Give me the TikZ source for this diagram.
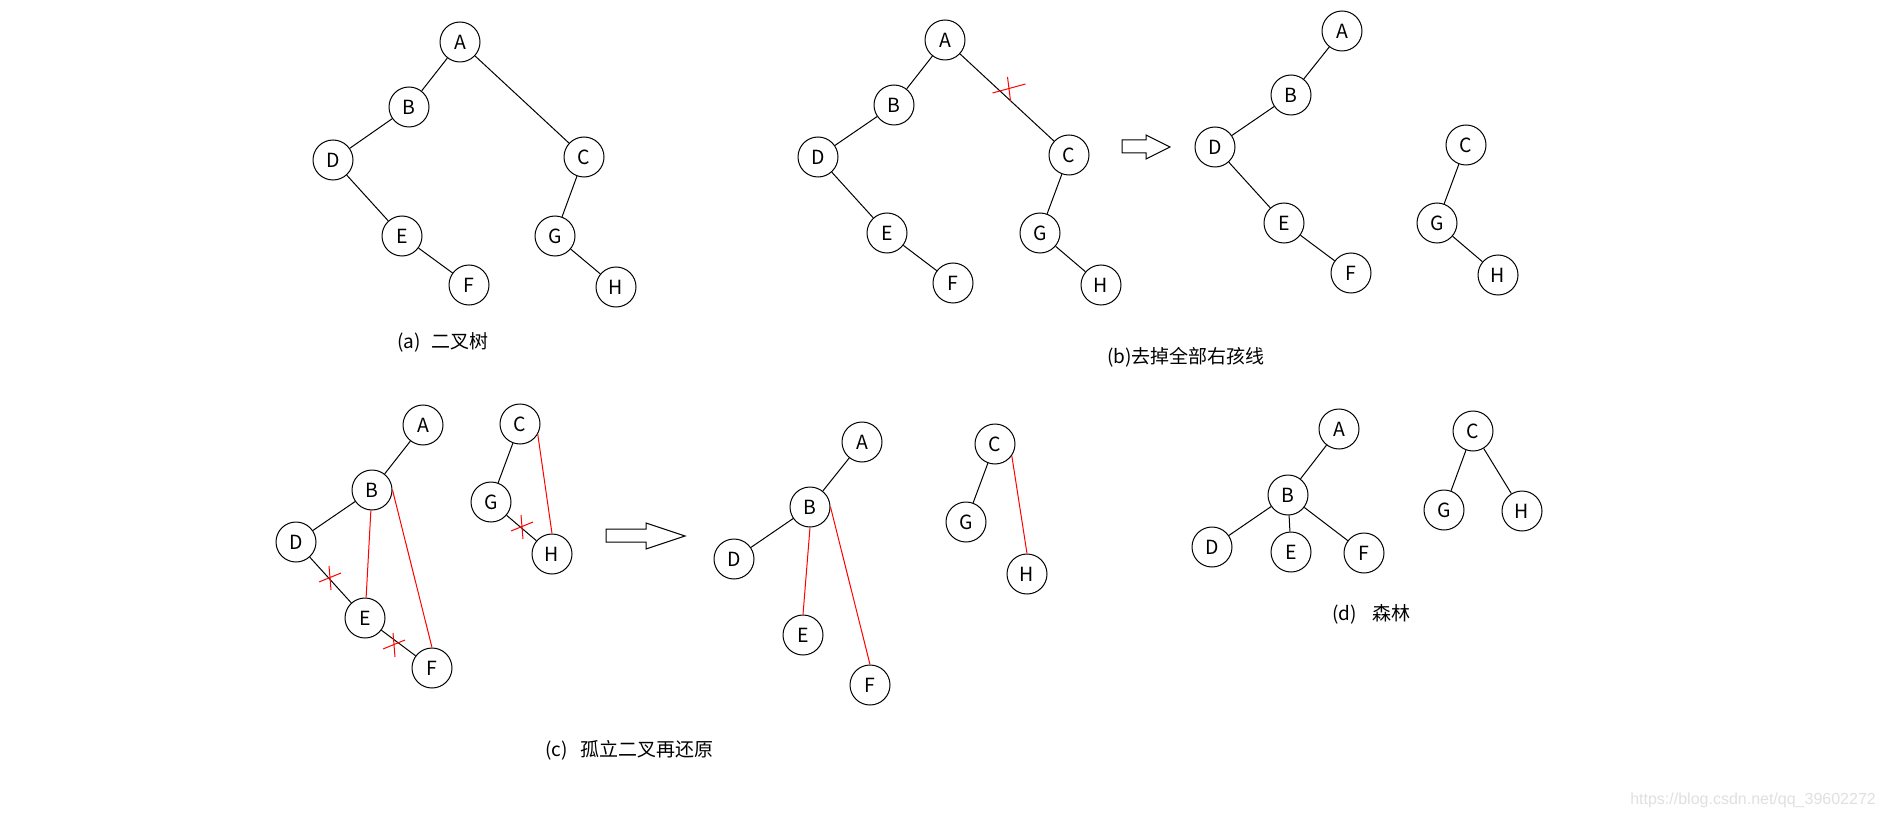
\documentclass[tikz,border=0pt]{standalone}
\usepackage{fontspec}
\setmainfont{Noto Sans CJK SC}
\newfontfamily\urlfont{Liberation Sans}
\tikzset{
  vert/.style={circle, draw, line width=1pt, minimum size=40pt, inner sep=0pt,
    font=\fontsize{19.5}{22}\selectfont},
  caption/.style={anchor=west, inner sep=0pt, font=\fontsize{19}{22}\selectfont},
  edge/.style={line width=1pt},
  redge/.style={line width=1pt, red},
  hollow/.style={line width=1pt, fill=white},
  cross/.pic={\draw[red, line width=1pt] (-11,4) -- (11,-5) (-1,-12) -- (1,12);}
}
\begin{document}
\begin{tikzpicture}[x=1pt, y=-1pt]
\useasboundingbox[fill=white] (0,0) rectangle (1886,818);

% (a)
\node[vert] (aA) at (460,42) {A};
\node[vert] (aB) at (409,107) {B};
\node[vert] (aD) at (333,160) {D};
\node[vert] (aC) at (584,157) {C};
\node[vert] (aE) at (402,236) {E};
\node[vert] (aG) at (555,236) {G};
\node[vert] (aF) at (469,285) {F};
\node[vert] (aH) at (616,287) {H};
\draw[edge] (aA) -- (aB) (aB) -- (aD) (aD) -- (aE) (aE) -- (aF);
\draw[edge] (aA) -- (aC) (aC) -- (aG) (aG) -- (aH);
\node[caption] (acap) at (397,342) {(a)\hspace{11pt}二叉树};

% (b)
\node[vert] (bA) at (945,40) {A};
\node[vert] (bB) at (894,105) {B};
\node[vert] (bD) at (818,157) {D};
\node[vert] (bC) at (1069,155) {C};
\node[vert] (bE) at (887,233) {E};
\node[vert] (bG) at (1040,233) {G};
\node[vert] (bF) at (953,283) {F};
\node[vert] (bH) at (1101,285) {H};
\draw[edge] (bA) -- (bB) (bB) -- (bD) (bD) -- (bE) (bE) -- (bF);
\draw[edge] (bA) -- (bC) (bC) -- (bG) (bG) -- (bH);
\pic[xscale=1.5] at (1009,89) {cross};
\draw[hollow] (1122,140) -- (1146,140) -- (1146,135) -- (1170,147)
  -- (1146,159) -- (1146,153) -- (1122,153) -- cycle;

\node[vert] (b2A) at (1342,31) {A};
\node[vert] (b2B) at (1291,95) {B};
\node[vert] (b2D) at (1215,147) {D};
\node[vert] (b2E) at (1284,223) {E};
\node[vert] (b2F) at (1351,273) {F};
\node[vert] (b2C) at (1466,145) {C};
\node[vert] (b2G) at (1437,223) {G};
\node[vert] (b2H) at (1498,275) {H};
\draw[edge] (b2A) -- (b2B) (b2B) -- (b2D) (b2D) -- (b2E) (b2E) -- (b2F);
\draw[edge] (b2C) -- (b2G) (b2G) -- (b2H);
\node[caption] (bcap) at (1107,357) {(b)去掉全部右孩线};

% (c)
\node[vert] (cA) at (423,425) {A};
\node[vert] (cB) at (372,490) {B};
\node[vert] (cD) at (296,542) {D};
\node[vert] (cE) at (365,618) {E};
\node[vert] (cF) at (432,668) {F};
\node[vert] (cC) at (520,424) {C};
\node[vert] (cG) at (491,502) {G};
\node[vert] (cH) at (552,554) {H};
\draw[edge] (cA) -- (cB) (cB) -- (cD) (cD) -- (cE) (cE) -- (cF);
\draw[edge] (cC) -- (cG) (cG) -- (cH);
\draw[redge] (cB) -- (cE);
\draw[redge] (cB.east) -- (cF.north);
\draw[redge] (cC.-30) -- (cH.north);
\pic at (330,578) {cross};
\pic at (394,645) {cross};
\pic at (522,527) {cross};
\draw[hollow] (606,529) -- (646,529) -- (646,523) -- (685,536)
  -- (646,549) -- (646,542) -- (606,542) -- cycle;

\node[vert] (c2A) at (862,442) {A};
\node[vert] (c2B) at (810,507) {B};
\node[vert] (c2D) at (734,559) {D};
\node[vert] (c2E) at (803,635) {E};
\node[vert] (c2F) at (870,685) {F};
\node[vert] (c2C) at (995,444) {C};
\node[vert] (c2G) at (966,522) {G};
\node[vert] (c2H) at (1027,574) {H};
\draw[edge] (c2A) -- (c2B) (c2B) -- (c2D) (c2C) -- (c2G);
\draw[redge] (c2B.south) -- (c2E.north);
\draw[redge] (c2B.east) -- (c2F.north);
\draw[redge] (c2C.-35) -- (c2H.north);
\node[caption] (ccap) at (545,750) {(c)\hspace{13pt}孤立二叉再还原};

% (d)
\node[vert] (dA) at (1339,429) {A};
\node[vert] (dB) at (1288,495) {B};
\node[vert] (dD) at (1212,547) {D};
\node[vert] (dE) at (1291,552) {E};
\node[vert] (dF) at (1364,553) {F};
\node[vert] (dC) at (1473,431) {C};
\node[vert] (dG) at (1444,510) {G};
\node[vert] (dH) at (1522,511) {H};
\draw[edge] (dA) -- (dB) (dB) -- (dD) (dB) -- (dE) (dB) -- (dF);
\draw[edge] (dC) -- (dG) (dC) -- (dH);
\node[caption] (dcap) at (1332,614) {(d)\hspace{16pt}森林};

\node[anchor=east, inner sep=0pt, text=black!12, font=\urlfont\fontsize{16}{18}\selectfont]
  (mark) at (1876,800) {https://blog.csdn.net/qq\_39602272};
\end{tikzpicture}
\end{document}
